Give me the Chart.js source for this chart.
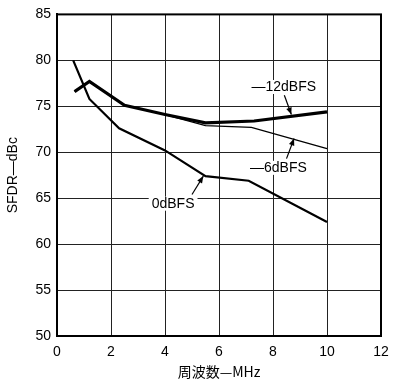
<!DOCTYPE html>
<html>
<head>
<meta charset="utf-8">
<script src="https://cdn.jsdelivr.net/npm/chart.js@4.4.1/dist/chart.umd.min.js"></script>
<style>
  html, body { margin: 0; padding: 0; background: #fff; }
  #wrap { width: 409px; height: 384px; }
</style>
</head>
<body>
<div id="wrap"><canvas id="c" width="409" height="384"></canvas></div>
<script>
// Frequency (MHz) / SFDR (dBc) for each input level
const freq0 = [0.6, 1.2, 2.3, 4.0, 5.5, 7.1, 10.0];
const sfdr0 = [80.0, 75.8, 72.6, 70.2, 67.4, 66.9, 62.4];

const freq12 = [0.65, 1.2, 2.5, 4.0, 5.5, 7.3, 10.0];
const sfdr12 = [76.6, 77.7, 75.1, 74.1, 73.2, 73.4, 74.4];

const freq6 = [0.65, 1.2, 2.5, 4.0, 5.5, 7.2, 10.0];
const sfdr6 = [76.6, 77.7, 75.1, 74.1, 72.9, 72.7, 70.4];

const xTicks = [0, 2, 4, 6, 8, 10, 12];
const yTicks = [50, 55, 60, 65, 70, 75, 80, 85];

// Curve labels: text anchor, arrow tail, arrow tip (data units)
const labelTexts = ['—12dBFS', '—6dBFS', '0dBFS'];
const labelAt = [[8.4, 77.1], [8.2, 68.3], [4.3, 64.4]];
const arrowFrom = [[8.42, 76.2], [8.5, 69.3], [5.0, 65.4]];
const arrowTo = [[8.68, 74.1], [8.78, 71.5], [5.42, 67.4]];

const toPts = (xs, ys) => xs.map((x, i) => ({ x: x, y: ys[i] }));

const frame = {
  id: 'frame',
  afterDatasetsDraw(chart) {
    const { ctx, chartArea: a, scales } = chart;
    ctx.save();
    ctx.strokeStyle = '#000';
    ctx.lineWidth = 2;
    ctx.strokeRect(a.left, a.top, a.right - a.left, a.bottom - a.top);

    ctx.font = '14px "Liberation Sans", Arial, sans-serif';
    ctx.textAlign = 'center';
    ctx.textBaseline = 'middle';
    labelTexts.forEach((t, i) => {
      const lx = scales.x.getPixelForValue(labelAt[i][0]);
      const ly = scales.y.getPixelForValue(labelAt[i][1]);
      const w = ctx.measureText(t).width;
      ctx.fillStyle = '#fff';
      ctx.fillRect(lx - w / 2 - 3, ly - 7, w + 6, 14);
      ctx.fillStyle = '#000';
      ctx.fillText(t, lx, ly);

      const x1 = scales.x.getPixelForValue(arrowFrom[i][0]);
      const y1 = scales.y.getPixelForValue(arrowFrom[i][1]);
      const x2 = scales.x.getPixelForValue(arrowTo[i][0]);
      const y2 = scales.y.getPixelForValue(arrowTo[i][1]);
      ctx.strokeStyle = '#000';
      ctx.lineWidth = 1.2;
      ctx.beginPath();
      ctx.moveTo(x1, y1);
      ctx.lineTo(x2, y2);
      ctx.stroke();
      const ang = Math.atan2(y2 - y1, x2 - x1);
      const hl = 7, hw = 2.8;
      ctx.beginPath();
      ctx.moveTo(x2, y2);
      ctx.lineTo(x2 - hl * Math.cos(ang) + hw * Math.sin(ang), y2 - hl * Math.sin(ang) - hw * Math.cos(ang));
      ctx.lineTo(x2 - hl * Math.cos(ang) - hw * Math.sin(ang), y2 - hl * Math.sin(ang) + hw * Math.cos(ang));
      ctx.closePath();
      ctx.fillStyle = '#000';
      ctx.fill();
    });
    ctx.restore();
  }
};

new Chart(document.getElementById('c'), {
  type: 'line',
  data: {
    datasets: [
      { label: '0dBFS', data: toPts(freq0, sfdr0), borderColor: '#000', borderWidth: 2.2, pointRadius: 0, tension: 0 },
      { label: '-6dBFS', data: toPts(freq6, sfdr6), borderColor: '#000', borderWidth: 1.3, pointRadius: 0, tension: 0 },
      { label: '-12dBFS', data: toPts(freq12, sfdr12), borderColor: '#000', borderWidth: 3.2, pointRadius: 0, tension: 0 }
    ]
  },
  options: {
    responsive: false,
    animation: false,
    events: [],
    layout: { padding: { left: 0, top: 11, right: 28, bottom: 4 } },
    plugins: { legend: { display: false }, tooltip: { enabled: false } },
    scales: {
      x: {
        type: 'linear', min: 0, max: 12,
        afterBuildTicks: s => { s.ticks = xTicks.map(v => ({ value: v })); },
        afterFit: s => { s.height = 44; },
        grid: { color: '#222', lineWidth: 1, drawTicks: false },
        border: { color: '#000', width: 2 },
        ticks: { color: '#000', padding: 8, font: { family: '"Liberation Sans", Arial, sans-serif', size: 14 } },
        title: { display: true, text: '周波数—MHz', color: '#000', padding: { top: 2, bottom: 0 },
                 font: { family: '"Noto Sans CJK JP", "Liberation Sans", sans-serif', size: 14 } }
      },
      y: {
        type: 'linear', min: 50, max: 85,
        afterBuildTicks: s => { s.ticks = yTicks.map(v => ({ value: v })); },
        afterFit: s => { s.width = 57; },
        grid: { color: '#222', lineWidth: 1, drawTicks: false },
        border: { color: '#000', width: 2 },
        ticks: { color: '#000', padding: 6, font: { family: '"Liberation Sans", Arial, sans-serif', size: 14 } },
        title: { display: true, text: 'SFDR—dBc', color: '#000', padding: { top: 5, bottom: 0 },
                 font: { family: '"Liberation Sans", Arial, sans-serif', size: 14 } }
      }
    }
  },
  plugins: [frame]
});
</script>
</body>
</html>
